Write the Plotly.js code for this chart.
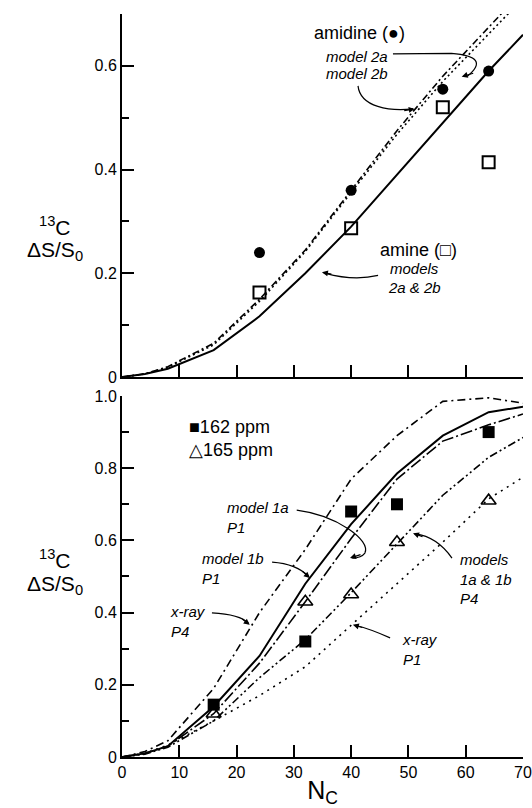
<!DOCTYPE html>
<html><head><meta charset="utf-8">
<script src="https://cdn.plot.ly/plotly-3.0.1.min.js"></script>
<style>html,body{margin:0;padding:0;background:#fff}#chart{width:532px;height:808px}</style>
</head><body><div id="chart"></div>
<script>
// ---------- data ----------
const ncCurve = [0, 4, 8, 16, 24, 32, 40, 48, 56, 64, 70];
// top panel
const topX = [24, 40, 56, 64];
const amidine = [0.24, 0.36, 0.555, 0.59];
const amine = [0.163, 0.287, 0.52, 0.414];
const model2a = [0, 0.006, 0.02, 0.065, 0.15, 0.245, 0.36, 0.475, 0.58, 0.675, 0.745];
const model2b = [0, 0.006, 0.019, 0.062, 0.146, 0.242, 0.356, 0.468, 0.57, 0.66, 0.73];
const model2amine = [0, 0.006, 0.016, 0.052, 0.117, 0.2, 0.29, 0.39, 0.49, 0.59, 0.66];
// bottom panel
const botX = [16, 32, 40, 48, 64];
const ppm162 = [0.145, 0.32, 0.68, 0.70, 0.90];
const ppm165 = [0.12, 0.43, 0.45, 0.595, 0.71];
const xrayP4 = [0, 0.015, 0.045, 0.19, 0.4, 0.575, 0.77, 0.89, 0.985, 0.995, 0.98];
const model1aP1 = [0, 0.01, 0.03, 0.14, 0.28, 0.48, 0.645, 0.785, 0.89, 0.955, 0.97];
const model1bP1 = [0, 0.01, 0.03, 0.12, 0.26, 0.43, 0.605, 0.77, 0.875, 0.92, 0.95];
const models1abP4 = [0, 0.008, 0.027, 0.10, 0.22, 0.325, 0.455, 0.59, 0.725, 0.83, 0.885];
const xrayP1 = [0, 0.01, 0.033, 0.10, 0.17, 0.25, 0.365, 0.48, 0.595, 0.715, 0.775];
// ticks
const xTicks = [0, 10, 20, 30, 40, 50, 60, 70];
const xTickText = ['0', '10', '20', '30', '40', '50', '60', '70'];
const topYTicks = [0, 0.2, 0.4, 0.6];
const topYText = ['0', '0.2', '0.4', '0.6'];
const topYMinor = [0.1, 0.3, 0.5];
const botYTicks = [0, 0.2, 0.4, 0.6, 0.8, 1.0];
const botYText = ['0', '0.2', '0.4', '0.6', '0.8', '1.0'];
const botYMinor = [0.1, 0.3, 0.5, 0.7, 0.9];

// ---------- traces ----------
const K = '#000';
const traces = [
  {x: ncCurve, y: model2amine, xaxis: 'x', yaxis: 'y', mode: 'lines', line: {color: K, width: 2}},
  {x: ncCurve, y: model2a, xaxis: 'x', yaxis: 'y', mode: 'lines', line: {color: K, width: 1.6, dash: '7px,3px,2px,3px'}},
  {x: ncCurve, y: model2b, xaxis: 'x', yaxis: 'y', mode: 'lines', line: {color: K, width: 1.6, dash: '2px,3px'}},
  {x: topX, y: amidine, xaxis: 'x', yaxis: 'y', mode: 'markers', marker: {symbol: 'circle', size: 11, color: K}},
  {x: topX, y: amine, xaxis: 'x', yaxis: 'y', mode: 'markers', marker: {symbol: 'square-open', size: 12, color: K, line: {width: 2}}},

  {x: ncCurve, y: xrayP4, xaxis: 'x2', yaxis: 'y2', mode: 'lines', line: {color: K, width: 1.6, dash: '8px,4px,2px,4px'}},
  {x: ncCurve, y: model1aP1, xaxis: 'x2', yaxis: 'y2', mode: 'lines', line: {color: K, width: 2}},
  {x: ncCurve, y: model1bP1, xaxis: 'x2', yaxis: 'y2', mode: 'lines', line: {color: K, width: 1.6, dash: '12px,3px,2px,3px'}},
  {x: ncCurve, y: models1abP4, xaxis: 'x2', yaxis: 'y2', mode: 'lines', line: {color: K, width: 1.6, dash: '8px,3px,2px,3px,2px,3px'}},
  {x: ncCurve, y: xrayP1, xaxis: 'x2', yaxis: 'y2', mode: 'lines', line: {color: K, width: 1.6, dash: '2px,5px'}},
  {x: botX, y: ppm162, xaxis: 'x2', yaxis: 'y2', mode: 'markers', marker: {symbol: 'square', size: 12, color: K}},
  {x: botX, y: ppm165, xaxis: 'x2', yaxis: 'y2', mode: 'markers', marker: {symbol: 'triangle-up-open', size: 13, color: K, line: {width: 1.6}}}
];

// ---------- layout ----------
const FONT = 'Liberation Sans, Arial, Helvetica, sans-serif';
function xAxis(anchor, labels) {
  return {anchor: anchor, range: [0, 70], tickmode: 'array', tickvals: xTicks, ticktext: xTickText,
    showticklabels: labels, ticks: 'inside', ticklen: 12, tickwidth: 2, tickcolor: K,
    ticklabeloverflow: 'allow',
    showline: true, linecolor: K, linewidth: 2, showgrid: false, zeroline: false,
    tickfont: {size: 16, color: K, family: FONT}};
}
function yAxis(anchor, dom, rng, tv, tt, minor) {
  return {anchor: anchor, domain: dom, range: rng, tickmode: 'array', tickvals: tv, ticktext: tt,
    ticks: 'inside', ticklen: 12, tickwidth: 2, tickcolor: K,
    minor: {tickmode: 'array', tickvals: minor, ticks: 'inside', ticklen: 7, tickwidth: 2, tickcolor: K, showgrid: false},
    showline: true, linecolor: K, linewidth: 2, showgrid: false, zeroline: false,
    tickfont: {size: 16, color: K, family: FONT}};
}

function txt(xref, yref, x, y, text, size, anchor) {
  return {xref: xref, yref: yref, x: x, y: y, text: text, showarrow: false,
    xanchor: anchor || 'center', yanchor: 'middle', align: anchor || 'center',
    font: {size: size, color: K, family: FONT}};
}
function head(xref, yref, x, y, ax, ay) {
  return {xref: xref, yref: yref, x: x, y: y, ax: ax, ay: ay, text: '', showarrow: true,
    arrowhead: 2, arrowsize: 1, arrowwidth: 1.2, arrowcolor: K};
}
function curve(xref, yref, d) {
  return {type: 'path', xref: xref, yref: yref, path: d, line: {color: K, width: 1.2}};
}

const annotations = [
  // y titles
  txt('paper', 'paper', -0.168, 0.715, '<sup>13</sup>C', 21),
  txt('paper', 'paper', -0.168, 0.681, 'ΔS/S<sub>0</sub>', 21),
  txt('paper', 'paper', -0.168, 0.266, '<sup>13</sup>C', 21),
  txt('paper', 'paper', -0.168, 0.232, 'ΔS/S<sub>0</sub>', 21),
  // top panel labels
  txt('x', 'y', 41.5, 0.663, 'amidine (●)', 18),
  txt('x', 'y', 41.0, 0.619, '<i>model 2a</i>', 15),
  txt('x', 'y', 41.0, 0.585, '<i>model 2b</i>', 15),
  txt('x', 'y', 51.7, 0.244, 'amine (□)', 18),
  txt('x', 'y', 51.0, 0.209, '<i>models</i>', 15),
  txt('x', 'y', 51.0, 0.173, '<i>2a &amp; 2b</i>', 15),
  head('x', 'y', 59.3, 0.579, 13, -4),
  head('x', 'y', 51.1, 0.517, -12, 2),
  head('x', 'y', 34.9, 0.202, 11, 2),
  // bottom panel labels
  txt('x2', 'y2', 11.3, 0.914, '■162 ppm', 18, 'left'),
  txt('x2', 'y2', 11.3, 0.850, '△165 ppm', 18, 'left'),
  txt('x2', 'y2', 18.0, 0.663, '<i>model 1a<br>P1</i>', 15, 'left'),
  txt('x2', 'y2', 13.6, 0.521, '<i>model 1b<br>P1</i>', 15, 'left'),
  txt('x2', 'y2', 8.0, 0.375, '<i>x-ray<br>P4</i>', 15, 'left'),
  txt('x2', 'y2', 58.6, 0.494, '<i>models<br>1a &amp; 1b<br>P4</i>', 15, 'left'),
  txt('x2', 'y2', 48.5, 0.299, '<i>x-ray<br>P1</i>', 15, 'left'),
  head('x2', 'y2', 39.8, 0.551, 12, -4),
  head('x2', 'y2', 32.8, 0.496, -9, -8),
  head('x2', 'y2', 22.3, 0.366, -9, -7),
  head('x2', 'y2', 50.8, 0.620, 11, 4),
  head('x2', 'y2', 40.3, 0.366, 11, 3)
];

const shapes = [
  curve('x', 'y', 'M 47.3,0.623 L 57.5,0.624 Q 64.5,0.618 60.3,0.58'),
  curve('x', 'y', 'M 41.2,0.5615 C 41.6,0.52 46.8,0.512 50.8,0.517'),
  curve('x', 'y', 'M 44.7,0.196 Q 40.5,0.185 35.5,0.2'),
  curve('x2', 'y2', 'M 30.5,0.684 C 37.5,0.67 43.5,0.6 42.4,0.565 Q 41.8,0.552 40.2,0.551'),
  curve('x2', 'y2', 'M 26.2,0.540 Q 30.5,0.535 32.6,0.5'),
  curve('x2', 'y2', 'M 15.7,0.399 Q 20.6,0.395 22.1,0.37'),
  curve('x2', 'y2', 'M 57.6,0.551 Q 55,0.61 51.2,0.618'),
  curve('x2', 'y2', 'M 46.8,0.330 Q 43.3,0.355 40.7,0.365')
];

const layout = {
  width: 532, height: 808,
  margin: {l: 122, r: 9, t: 14, b: 51},
  paper_bgcolor: '#fff', plot_bgcolor: '#fff',
  showlegend: false,
  font: {family: FONT, color: K},
  xaxis: xAxis('y', false),
  yaxis: yAxis('x', [0.5114, 1], [0, 0.7], topYTicks, topYText, topYMinor),
  xaxis2: Object.assign(xAxis('y2', true), {title: {text: 'N<sub>C</sub>', font: {size: 25, color: K, family: FONT}, standoff: 2}}),
  yaxis2: yAxis('x2', [0, 0.4859], [0, 1.0], botYTicks, botYText, botYMinor),
  annotations: annotations,
  shapes: shapes
};

Plotly.newPlot('chart', traces, layout, {staticPlot: true, displayModeBar: false});
</script>
</body></html>
